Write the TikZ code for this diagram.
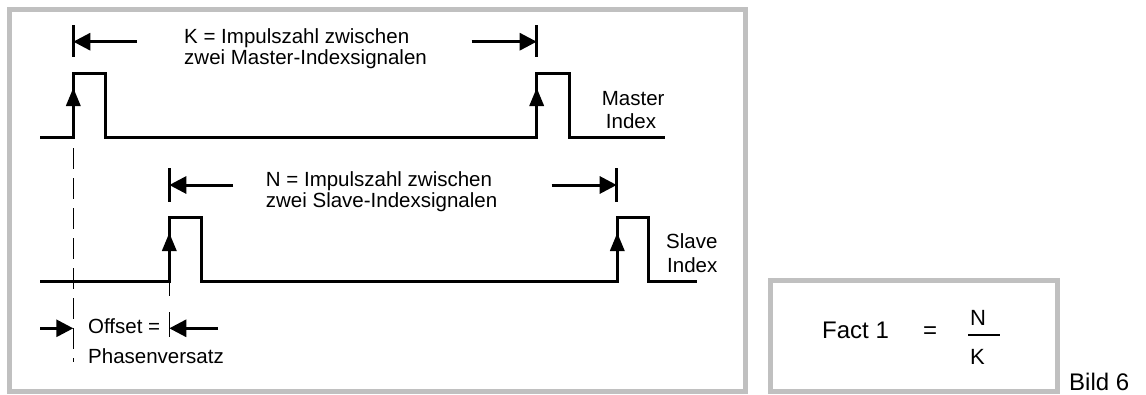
\documentclass[tikz,border=0pt]{standalone}
\usepackage{fontspec}
\setmainfont{Liberation Sans}
\usetikzlibrary{arrows.meta}
\definecolor{boxgray}{HTML}{C0C0C0}
\begin{document}
\begin{tikzpicture}[x=1pt,y=-1pt,
  sig/.style={line width=3pt, line join=miter},
  tick/.style={line width=3pt},
  dim/.style={line width=3pt, -{Triangle[length=17pt,width=17pt]}},
  guide/.style={line width=1.5pt, dash pattern=on 21pt off 9pt},
  frame/.style={line width=5pt, draw=boxgray},
  lbl/.style={anchor=base west, inner sep=0pt, font=\fontsize{20.5}{22}\selectfont},
  big/.style={inner sep=0pt, font=\fontsize{24}{26}\selectfont},
  frac/.style={inner sep=0pt, font=\fontsize{22}{24}\selectfont},
  uptip/.pic={\fill (0,0) -- (-7.5,18) -- (7.5,18) -- cycle;}
]
\useasboundingbox (0,0) rectangle (1146,394);

% frames
\draw[frame] (9.5,9.5) rectangle (745,391.5);
\draw[frame] (770.5,280.5) rectangle (1057.5,391.5);

% master signal
\draw[sig] (40,137) -- (73.3,137) -- (73.3,73.3) -- (105.3,73.3) -- (105.3,137)
  -- (536.7,137) -- (536.7,73.3) -- (569,73.3) -- (569,137) -- (665,137);
\pic at (73.3,88) {uptip};
\pic at (536.7,88) {uptip};

% slave signal
\draw[sig] (40,281) -- (169.3,281) -- (169.3,217.3) -- (201,217.3) -- (201,281)
  -- (617.3,281) -- (617.3,217.3) -- (648.7,217.3) -- (648.7,281) -- (696.7,281);
\pic at (169.3,233) {uptip};
\pic at (617.3,233) {uptip};

% K dimension
\coordinate (k1) at (73.3,41.7);
\coordinate (k2) at (536.7,41.7);
\coordinate (k1s) at (137,41.7);
\coordinate (k2s) at (471.7,41.7);
\draw[tick] (73.3,25) -- (73.3,57);
\draw[tick] (536.7,25) -- (536.7,57);
\draw[dim] (k1s) -- (k1);
\draw[dim] (k2s) -- (k2);
\node[lbl] (ktext1) at (184,43) {K = Impulszahl zwischen};
\node[lbl] (ktext2) at (184,64) {zwei Master-Indexsignalen};

% N dimension
\coordinate (n1) at (169.3,185);
\coordinate (n2) at (616.7,185);
\coordinate (n1s) at (233,185);
\coordinate (n2s) at (551.7,185);
\draw[tick] (169.3,168) -- (169.3,201.7);
\draw[tick] (616.7,168) -- (616.7,201.7);
\draw[dim] (n1s) -- (n1);
\draw[dim] (n2s) -- (n2);
\node[lbl] (ntext1) at (265.7,186.5) {N = Impulszahl zwischen};
\node[lbl] (ntext2) at (265.7,207.5) {zwei Slave-Indexsignalen};

% guides
\draw[guide] (73.3,148) -- (73.3,362);
\draw[line width=1.5pt, dash pattern=on 13pt off 16pt on 30pt off 10pt] (169.3,283) -- (169.3,337);

% offset
\coordinate (o1) at (73.3,328.3);
\coordinate (o2) at (169.3,328.3);
\coordinate (o1s) at (40,328.3);
\coordinate (o2s) at (218,328.3);
\draw[dim] (o1s) -- (o1);
\draw[dim] (o2s) -- (o2);
\node[lbl] (off1) at (88,333.5) {Offset =};
\node[lbl] (off2) at (88,363) {Phasenversatz};

% signal labels
\node[lbl] (m1) at (601.7,105) {Master};
\node[lbl] (m2) at (605.7,128.3) {Index};
\node[lbl] (s1) at (666,248.3) {Slave};
\node[lbl] (s2) at (667,272.7) {Index};

% fact box
\node[big, anchor=base west] (fact) at (822,338) {Fact 1};
\node[big, anchor=center] (eq) at (930,333) {=};
\node[frac, anchor=base west] (fn) at (970,325) {N};
\draw[line width=1.2pt] (968,335) -- (1000,335);
\node[frac, anchor=base west] (fk) at (970,364) {K};
\node[big, anchor=base west] (bild) at (1069,390) {Bild 6};
\end{tikzpicture}
\end{document}
